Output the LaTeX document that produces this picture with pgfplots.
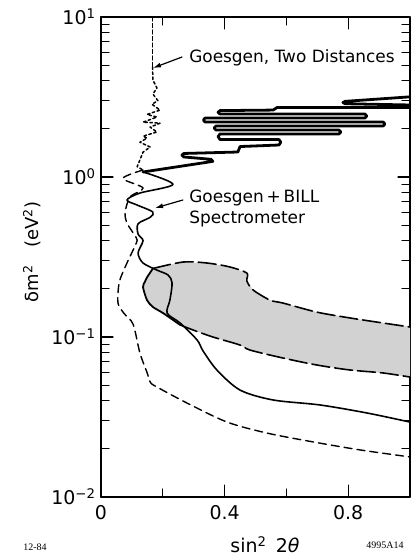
\documentclass[border=0pt]{standalone}
\usepackage{fontspec}
\setmainfont{DejaVu Sans}
\newfontfamily\smallserif{Liberation Serif}
\usepackage{pgfplots}
\pgfplotsset{compat=1.18}
\usetikzlibrary{arrows.meta}

\begin{document}
\begin{tikzpicture}
\useasboundingbox (-101bp,-62bp) rectangle (313bp,497bp);
\begin{axis}[
  at={(0,0)}, anchor=south west,
  scale only axis, width=309bp, height=480bp,
  xmin=0, xmax=1, ymin=0.01, ymax=10, ymode=log,
  xtick={0,0.4,0.8}, xticklabels={0,0.4,0.8},
  minor xtick={0.2,0.6},
  ytick={0.01,0.1,1,10},
  yticklabels={10\textsuperscript{−2},10\textsuperscript{−1},10\textsuperscript{0},10\textsuperscript{1}},
  minor ytick={0.02,0.03,0.04,0.05,0.06,0.07,0.08,0.09,0.2,0.3,0.4,0.5,0.6,0.7,0.8,0.9,2,3,4,5,6,7,8,9},
  tick label style={font=\fontsize{19}{22}\selectfont},
  xticklabel style={yshift=-5bp},
  yticklabel style={xshift=-2bp},
  major tick length=12bp, minor tick length=8bp,
  tick style={black, line width=1.1pt},
  axis line style={line width=1.6pt},
  line join=round, line cap=round,
]

% allowed region (stippled band)
\addplot[fill=gray!35, draw=none] coordinates {
  (0.168,0.268) (0.265,0.294) (0.343,0.29) (0.417,0.274) (0.472,0.251)
  (0.472,0.224) (0.492,0.197) (0.547,0.17) (0.589,0.163) (0.699,0.143)
  (0.806,0.1315) (0.913,0.1223) (1.0,0.1155) (1.0,0.0562) (0.913,0.0596)
  (0.806,0.0622) (0.699,0.0668) (0.589,0.0739) (0.482,0.0829) (0.45,0.0891)
  (0.362,0.1) (0.298,0.1106) (0.256,0.119) (0.201,0.141) (0.168,0.154)
  (0.149,0.17) (0.136,0.205) (0.142,0.221) (0.149,0.236)
} -- cycle;
\addplot[black, line width=1.6pt, dash pattern=on 18bp off 5bp, smooth, tension=0.5] coordinates {
  (0.168,0.268) (0.265,0.294) (0.343,0.29) (0.417,0.274) (0.472,0.251)
  (0.472,0.224) (0.492,0.197) (0.547,0.17) (0.589,0.163) (0.699,0.143)
  (0.806,0.1315) (0.913,0.1223) (1.0,0.1155)
};
\addplot[black, line width=1.6pt, dash pattern=on 18bp off 5bp, smooth, tension=0.5] coordinates {
  (0.256,0.119) (0.298,0.1106) (0.362,0.1) (0.45,0.0891) (0.482,0.0829)
  (0.589,0.0739) (0.699,0.0668) (0.806,0.0622) (0.913,0.0596) (1.0,0.0562)
};
\addplot[black, line width=1.8pt, smooth, tension=0.5] coordinates {
  (0.256,0.119) (0.201,0.141) (0.168,0.154) (0.149,0.17) (0.136,0.205)
  (0.142,0.221) (0.149,0.236) (0.168,0.268)
};

% Goesgen, two distances (dashed)
\addplot[black, line width=1.3pt, dash pattern=on 4bp off 2.5bp] coordinates {
  (0.167,10) (0.167,4.87)
};
\addplot[black, line width=1.5pt, dash pattern=on 2.5bp off 2.5bp] coordinates {
  (0.167,4.87) (0.168,4.04) (0.181,3.6) (0.168,3.3) (0.184,3.0) (0.165,2.85)
  (0.191,2.62) (0.149,2.46) (0.181,2.37) (0.136,2.2) (0.191,2.17) (0.159,2.05)
  (0.181,1.91) (0.136,1.8) (0.149,1.75) (0.126,1.65) (0.159,1.54) (0.136,1.43)
  (0.126,1.28) (0.117,1.16) (0.136,1.106)
};
\addplot[black, line width=1.4pt, dash pattern=on 8bp off 5bp, smooth, tension=0.5] coordinates {
  (0.136,1.106) (0.071,0.98) (0.136,0.854) (0.094,0.75) (0.078,0.6)
  (0.084,0.516) (0.104,0.447) (0.117,0.404) (0.104,0.35) (0.084,0.29)
  (0.061,0.227) (0.055,0.188) (0.056,0.16) (0.075,0.14) (0.104,0.12)
  (0.126,0.0794) (0.149,0.06) (0.16,0.052) (0.181,0.0487) (0.278,0.0387)
  (0.408,0.0294) (0.537,0.0251) (0.686,0.0221) (0.838,0.0197) (1.0,0.0178)
};

% Goesgen + BILL spectrometer (solid)
\addplot[black, line width=2.8pt] coordinates {
  (1.08,3.25) (0.79,2.97) (0.783,2.92) (0.79,2.87) (1.08,2.80)
  (1.08,2.72) (0.570,2.72) (0.557,2.62) (0.385,2.60) (0.379,2.54)
  (0.385,2.476) (0.854,2.476) (0.860,2.405) (0.854,2.337) (0.337,2.337)
  (0.331,2.27) (0.337,2.207) (0.913,2.207) (0.919,2.144) (0.913,2.083)
  (0.372,2.083) (0.366,2.024) (0.372,1.967) (0.770,1.967) (0.776,1.911)
  (0.770,1.857) (0.385,1.857) (0.379,1.79) (0.385,1.715) (0.576,1.715)
  (0.582,1.65) (0.576,1.585) (0.450,1.55) (0.443,1.433) (0.268,1.403)
  (0.262,1.37) (0.268,1.334) (0.356,1.29) (0.362,1.252) (0.136,1.075)
};
\addplot[black, line width=1.6pt, smooth, tension=0.5] coordinates {
  (0.136,1.075) (0.233,0.90) (0.126,0.794) (0.084,0.718) (0.117,0.668)
  (0.168,0.604) (0.159,0.56) (0.12,0.51) (0.12,0.44) (0.136,0.40)
  (0.12,0.335) (0.136,0.29) (0.181,0.262) (0.217,0.244) (0.230,0.218)
  (0.223,0.170) (0.214,0.141) (0.256,0.1223) (0.311,0.0958) (0.330,0.082)
  (0.375,0.0622) (0.450,0.0466) (0.557,0.0404) (0.709,0.0376)
  (0.861,0.0335) (1.0,0.0294)
};

% curve labels
\node[anchor=west, inner sep=0pt, font=\fontsize{17}{19}\selectfont]
  at (axis cs:0.285,5.54) {Goesgen, Two Distances};
\draw[-{Latex[length=8bp,width=5bp]}, line width=1.2pt]
  (axis cs:0.262,5.62) -- (axis cs:0.168,4.80);
\node[anchor=west, inner sep=0pt, font=\fontsize{17}{19}\selectfont]
  at (axis cs:0.285,0.739) {Goesgen\,+\,BILL};
\node[anchor=west, inner sep=0pt, font=\fontsize{17}{19}\selectfont]
  at (axis cs:0.285,0.546) {Spectrometer};
\draw[-{Latex[length=8bp,width=5bp]}, line width=1.2pt]
  (axis cs:0.265,0.718) -- (axis cs:0.175,0.64);
\end{axis}

% axis titles and figure codes
\node[rotate=90, font=\fontsize{18}{20}\selectfont]
  at (-69bp,245bp) {δm\textsuperscript{2}\quad (eV\textsuperscript{2})};
\node[font=\fontsize{19}{22}\selectfont]
  at (164bp,-48bp) {sin\textsuperscript{2}\hspace{0.5em}2\textit{θ}};
\node[font=\smallserif\fontsize{10}{11}\selectfont] at (-66bp,-50bp) {12-84};
\node[font=\smallserif\fontsize{10}{11}\selectfont] at (284bp,-48bp) {4995A14};
\end{tikzpicture}
\end{document}
